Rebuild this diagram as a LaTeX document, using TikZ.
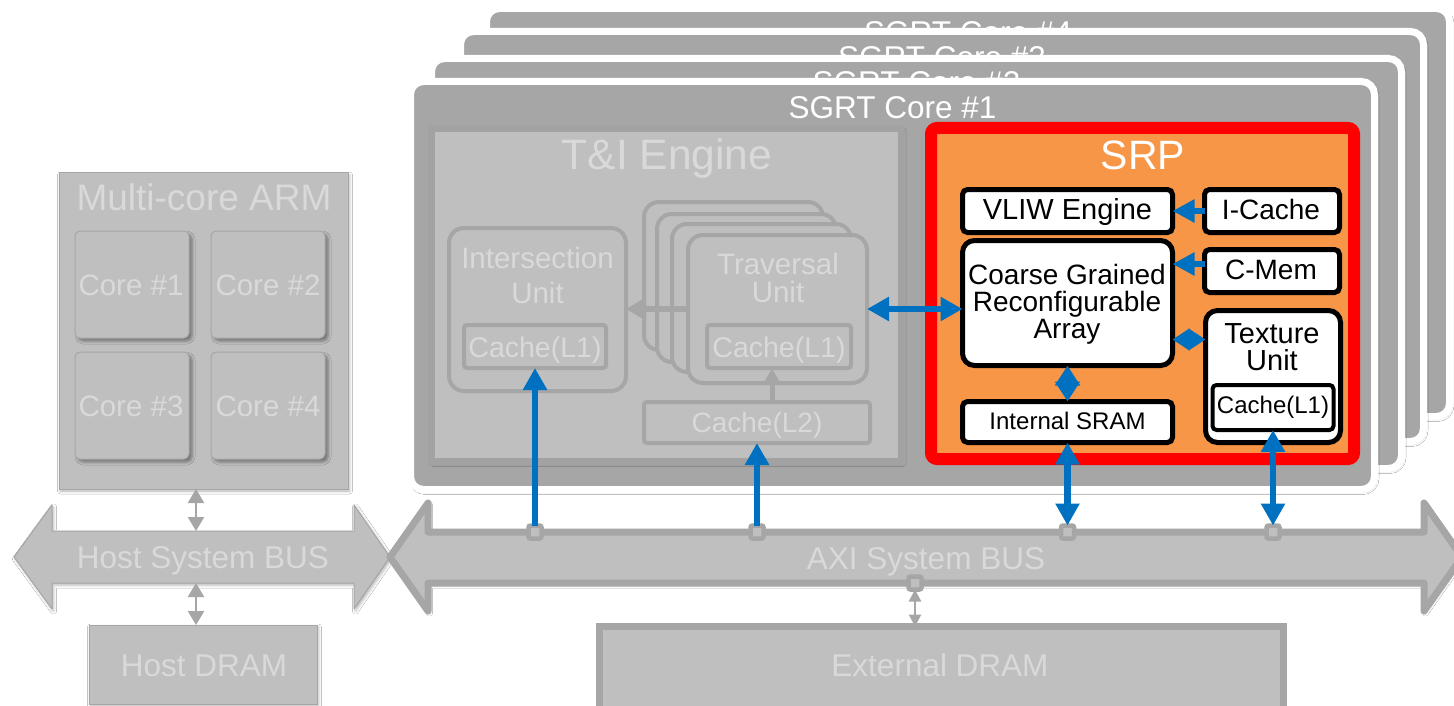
\documentclass[tikz,border=0pt]{standalone}
\usepackage{fontspec}
\setmainfont{Liberation Sans}
\usetikzlibrary{arrows.meta,shadows.blur}

\definecolor{coregrey}{HTML}{A6A6A6}
\definecolor{boxgrey}{HTML}{BFBFBF}
\definecolor{edgegrey}{HTML}{A6A6A6}
\definecolor{tiedge}{HTML}{A2A2A2}
\definecolor{fadetext}{HTML}{D9D9D9}
\definecolor{axiblue}{HTML}{0070C0}
\definecolor{srporange}{HTML}{F79646}
\definecolor{srpred}{HTML}{FF0000}

\tikzset{
  fsz/.style={font=\fontsize{#1}{#1}\selectfont},
  softshadow/.style={blur shadow={shadow xshift=1.5pt, shadow yshift=-2pt, shadow blur radius=3pt, shadow opacity=30}},
  armshadow/.style={blur shadow={shadow xshift=3pt, shadow yshift=-3pt, shadow blur radius=3pt, shadow opacity=40}},
  sgrtcore/.style={draw=white, line width=7pt, fill=coregrey, rounded corners=13pt, softshadow},
  corelabel/.style={text=white, fsz=31.5, anchor=base},
  fadebox/.style={draw=edgegrey, line width=1pt, fill=boxgrey},
  armcore/.style={fadebox, rounded corners=5pt, armshadow, minimum width=114pt, minimum height=107pt},
  unitbox/.style={draw=edgegrey, line width=4pt, fill=boxgrey, rounded corners=15pt},
  cachebox/.style={draw=edgegrey, line width=4pt, fill=boxgrey, rounded corners=3pt},
  fadetxt/.style={text=fadetext, anchor=base},
  srpbox/.style={draw=black, line width=5pt, fill=white, rounded corners=5pt},
  srptxt/.style={text=black, anchor=base},
  blueone/.style={draw=axiblue, line width=6.5pt, -{Triangle[width=23pt,length=22pt]}},
  bluetwo/.style={draw=axiblue, line width=6.5pt, {Triangle[width=23pt,length=22pt]}-{Triangle[width=23pt,length=22pt]}},
  bluefeed/.style={draw=axiblue, line width=6pt, -{Triangle[width=22pt,length=22pt]}},
  bluepair/.style={draw=axiblue, line width=6pt, {Triangle[width=21pt,length=17pt]}-{Triangle[width=21pt,length=17pt]}},
  bluediam/.style={draw=axiblue, line width=6pt, {Triangle[width=24pt,length=20pt]}-{Triangle[width=24pt,length=20pt]}},
  greyone/.style={draw=edgegrey, line width=6pt, -{Triangle[width=22pt,length=20pt]}},
  greytwo/.style={draw=edgegrey, line width=2.5pt, {Triangle[width=16pt,length=14pt]}-{Triangle[width=16pt,length=14pt]}},
  greysmall/.style={draw=edgegrey, line width=2.5pt, {Triangle[width=12pt,length=12pt]}-{Triangle[width=12pt,length=12pt]}},
  busport/.style={draw=edgegrey, line width=4.5pt, fill=boxgrey, minimum size=13pt, rounded corners=2pt},
}

\begin{document}
\begin{tikzpicture}[x=1pt, y=-1pt, every node/.style={inner sep=0pt, outer sep=0pt}]
\useasboundingbox (0,0) rectangle (1454,706);
\fill[white] (0,0) rectangle (1454,706);
\clip (0,0) rectangle (1454,706);

% ---------- stack of SGRT cores (back to front)
\node[sgrtcore, minimum width=963pt, minimum height=408pt] (core4) at (968,212.5) {};
\node[corelabel] (core4-t) at (968,44) {SGRT Core \#4};
\node[sgrtcore, minimum width=963pt, minimum height=410pt] (core3) at (942,236.5) {};
\node[corelabel] (core3-t) at (942,69) {SGRT Core \#3};
\node[sgrtcore, minimum width=970pt, minimum height=410pt] (core2) at (916.5,263.5) {};
\node[corelabel] (core2-t) at (916.5,94) {SGRT Core \#2};
\node[sgrtcore, minimum width=964pt, minimum height=408pt] (core1) at (892.5,285.5) {};
\node[corelabel] (core1-t) at (892.5,119) {SGRT Core \#1};

% ---------- T&I engine
\node[draw=tiedge, line width=7pt, fill=boxgrey, softshadow, minimum width=470pt, minimum height=333pt] (tie) at (666.5,295) {};
\node[fadetxt, fsz=42.5] (tie-t) at (667,170) {T\&I Engine};

% traversal units (stacked)
\node[unitbox, minimum width=179pt, minimum height=148pt] (trav4) at (733.5,276) {};
\node[unitbox, minimum width=179pt, minimum height=148pt] (trav3) at (746.5,288) {};
\node[unitbox, minimum width=179pt, minimum height=148pt] (trav2) at (761.5,298) {};
\node[unitbox, minimum width=179pt, minimum height=148pt] (trav1) at (777.5,309) {};
\node[fadetxt, fsz=29.5] (trav-t1) at (778,274) {Traversal};
\node[fadetxt, fsz=29.5] (trav-t2) at (778,302) {Unit};
\node[cachebox, minimum width=144pt, minimum height=43pt] (tcache) at (779,346.5) {};
\node[fadetxt, fsz=28.5] (tcache-t) at (779,357) {Cache(L1)};

% intersection unit
\node[unitbox, minimum width=177pt, minimum height=163pt] (isect) at (537.5,309.5) {};
\node[fadetxt, fsz=29.5] (isect-t1) at (537.5,268) {Intersection};
\node[fadetxt, fsz=29.5] (isect-t2) at (537.5,303) {Unit};
\node[cachebox, minimum width=142pt, minimum height=43pt] (icache) at (535,346.5) {};
\node[fadetxt, fsz=28.5] (icache-t) at (535,357) {Cache(L1)};

% L2 cache
\node[cachebox, minimum width=226pt, minimum height=41pt] (l2) at (757,422.5) {};
\node[fadetxt, fsz=28] (l2-t) at (757,432) {Cache(L2)};

\draw[greyone] (trav1.west) -- (trav1.west -| isect.east);
\draw[greyone, line width=5pt, -{Triangle[width=14pt,length=14pt]}] ([xshift=15pt]l2.north) -- ([xshift=15pt]l2.north |- tcache.south);

% ---------- SRP
\node[draw=srpred, line width=12pt, fill=srporange, rounded corners=6pt, softshadow, minimum width=423pt, minimum height=331pt] (srp) at (1142.5,293.5) {};
\node[text=white, anchor=base, fsz=41] (srp-t) at (1143,169) {SRP};

\node[srpbox, minimum width=210pt, minimum height=43pt] (vliw) at (1067.5,211) {};
\node[srptxt, fsz=29] (vliw-t) at (1067.5,219) {VLIW Engine};
\node[srpbox, minimum width=135pt, minimum height=43pt] (icache2) at (1272,211) {};
\node[srptxt, fsz=28] (icache2-t) at (1271,219) {I-Cache};
\node[srpbox, minimum width=135pt, minimum height=43pt] (cmem) at (1272,271) {};
\node[srptxt, fsz=28] (cmem-t) at (1271,279) {C-Mem};
\node[srpbox, rounded corners=12pt, minimum width=210pt, minimum height=125pt] (cgra) at (1067.5,303) {};
\node[srptxt, fsz=28] (cgra-t1) at (1067,284) {Coarse Grained};
\node[srptxt, fsz=28] (cgra-t2) at (1067,311) {Reconfigurable};
\node[srptxt, fsz=28] (cgra-t3) at (1067,338) {Array};
\node[srpbox, rounded corners=12pt, minimum width=135pt, minimum height=132pt] (tex) at (1273,376.5) {};
\node[srptxt, fsz=29] (tex-t1) at (1272,343) {Texture};
\node[srptxt, fsz=29] (tex-t2) at (1272,370) {Unit};
\node[srpbox, line width=4pt, rounded corners=4pt, minimum width=121pt, minimum height=45pt] (texcache) at (1273,407.5) {};
\node[srptxt, fsz=24] (texcache-t) at (1273,413) {Cache(L1)};
\node[srpbox, minimum width=210pt, minimum height=41pt] (sram) at (1067.5,422) {};
\node[srptxt, fsz=24] (sram-t) at (1067.5,429) {Internal SRAM};

\coordinate (cmemport) at ([yshift=7pt]cmem.west);
\coordinate (texport) at ([yshift=37pt]tex.west);
\draw[bluefeed] (icache2.west) -- (vliw.east);
\draw[bluefeed] (cmemport) -- (cmemport -| cgra.east);
\draw[bluepair] (texport -| cgra.east) -- (texport);
\draw[bluediam] (cgra.south) -- (sram.north);

% ---------- host side
\node[fadebox, softshadow, minimum width=289pt, minimum height=316pt] (arm) at (203.5,331) {};
\node[fadetxt, fsz=37] (arm-t) at (204,210) {Multi-core ARM};
\node[armcore] (arm1) at (132,284.5) {};
\node[armcore] (arm2) at (268,284.5) {};
\node[armcore] (arm3) at (132,405.5) {};
\node[armcore] (arm4) at (268,405.5) {};
\node[fadetxt, fsz=29.5] (arm1-t) at (131,295) {Core \#1};
\node[fadetxt, fsz=29.5] (arm2-t) at (268,295) {Core \#2};
\node[fadetxt, fsz=29.5] (arm3-t) at (131,416) {Core \#3};
\node[fadetxt, fsz=29.5] (arm4-t) at (268,416) {Core \#4};

\draw[fadebox, softshadow, line join=round] (14,557) -- (52,505) -- (52,531) -- (354,531) -- (354,505) -- (390,557)
  -- (354,609) -- (354,583) -- (52,583) -- (52,609) -- cycle;
\node[fadetxt, fsz=31.5] (hbus-t) at (203,568.5) {Host System BUS};
\coordinate (hbus-n) at (196,531);
\coordinate (hbus-s) at (196,583);

\node[fadebox, softshadow, minimum width=228pt, minimum height=79pt] (hdram) at (203,664.5) {};
\node[fadetxt, fsz=31.5] (hdram-t) at (204,676.5) {Host DRAM};

\draw[greytwo] (arm.south -| hbus-n) -- (hbus-n);
\draw[greytwo] (hbus-s) -- (hbus-s |- hdram.north);

% ---------- AXI bus and external memory
\draw[draw=edgegrey, line width=7pt, fill=boxgrey, line join=round, softshadow]
  (390,557) -- (428,503) -- (428,532) -- (1424,532) -- (1424,503) -- (1462,557)
  -- (1424,611) -- (1424,583) -- (428,583) -- (428,611) -- cycle;
\node[fadetxt, fsz=31.5] (axi-t) at (926,569.5) {AXI System BUS};

\node[draw=edgegrey, line width=7pt, fill=boxgrey, minimum width=684pt, minimum height=90pt] (edram) at (941.5,671.5) {};
\node[fadetxt, fsz=31.5] (edram-t) at (940,676.5) {External DRAM};

\node[busport] (p1) at (535,532) {};
\node[busport] (p2) at (757,532) {};
\node[busport] (p3) at (1067.5,532) {};
\node[busport] (p4) at (1273,532) {};
\node[busport] (p5) at (915,583) {};
\draw[greysmall] (p5.south) -- (p5.south |- edram.north);

% ---------- memory paths to the bus
\draw[blueone] (p1.north) -- (icache.south);
\draw[blueone] (p2.north) -- (l2.south);
\draw[bluetwo] (p3.north) -- (sram.south);
\draw[bluetwo] (p4.north) -- (texcache.south);
\draw[bluetwo] (trav1.east) -- (trav1.east -| cgra.west);

\end{tikzpicture}
\end{document}
